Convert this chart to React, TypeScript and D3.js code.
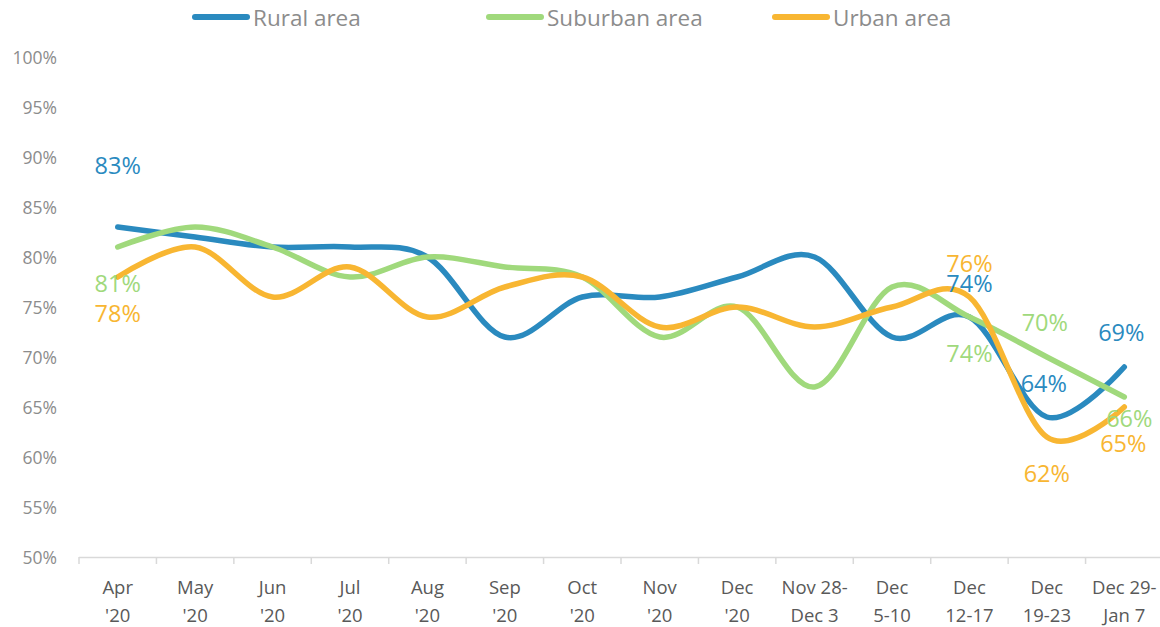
import React from "react";
import * as d3 from "d3";

if (typeof document !== "undefined") document.body.style.margin = "0";

const categories: string[][] = [
  ["Apr", "'20"], ["May", "'20"], ["Jun", "'20"], ["Jul", "'20"], ["Aug", "'20"],
  ["Sep", "'20"], ["Oct", "'20"], ["Nov", "'20"], ["Dec", "'20"], ["Nov 28-", "Dec 3"],
  ["Dec", "5-10"], ["Dec", "12-17"], ["Dec", "19-23"], ["Dec 29-", "Jan 7"],
];

const rural = [83, 82, 81, 81, 80, 72, 76, 76, 78, 80, 72, 74, 64, 69];
const suburban = [81, 83, 81, 78, 80, 79, 78, 72, 75, 67, 77, 74, 70, 66];
const urban = [78, 81, 76, 79, 74, 77, 78, 73, 75, 73, 75, 76, 62, 65];

const yTicks = [50, 55, 60, 65, 70, 75, 80, 85, 90, 95, 100];

const seriesNames = ["Rural area", "Suburban area", "Urban area"];
const seriesColors = ["#2a8abf", "#a0d97c", "#f8b632"];
const seriesValues = [rural, suburban, urban];

// labelled points: [seriesIndex, categoryIndex, dx, dy]
const labels: [number, number, number, number][] = [
  [0, 0, 0, -62], [1, 0, 0, 36], [2, 0, 0, 36],
  [2, 11, 0, -34], [0, 11, 0, -34], [1, 11, 0, 36],
  [1, 12, -2, -35], [0, 12, -3, -34], [2, 12, 0, 36],
  [0, 13, -3, -35], [1, 13, 5, 21], [2, 13, -1, 36],
];

const W = 1160, H = 627;
const FONT = "'Open Sans', 'Noto Sans', sans-serif";

export default function App() {
  const x = d3.scaleBand<number>().domain(d3.range(categories.length)).range([79, 1163]);
  const y = d3.scaleLinear().domain([50, 100]).range([557, 57]);
  const cx = (i: number) => (x(i) as number) + x.bandwidth() / 2;
  const line = d3.line<number>().x((_, i) => cx(i)).y((v) => y(v)).curve(d3.curveCatmullRom.alpha(0));

  const legendX = [193, 487, 773];

  return (
    <svg width={W} height={H} style={{ display: "block", fontFamily: FONT }}>
      <rect width={W} height={H} fill="#fff" />
      {yTicks.map((t) => (
        <text key={t} x={57} y={y(t)} textAnchor="end" dominantBaseline="central" fontSize={17.5} fill="#8c8c8c">
          {t}%
        </text>
      ))}
      <line x1={79} x2={1160} y1={557.5} y2={557.5} stroke="#d9d9d9" strokeWidth={1.5} />
      {d3.range(categories.length + 1).map((i) => {
        const px = i < categories.length ? (x(i) as number) : 79 + x.step() * categories.length;
        return <line key={i} x1={px} x2={px} y1={557} y2={564} stroke="#d9d9d9" strokeWidth={1.5} />;
      })}
      {categories.map((c, i) => (
        <text key={i} x={cx(i)} textAnchor="middle" fontSize={18.5} fill="#595959">
          <tspan x={cx(i)} y={594}>{c[0]}</tspan>
          <tspan x={cx(i)} y={622}>{c[1]}</tspan>
        </text>
      ))}
      {seriesValues.map((vals, s) => (
        <path key={s} d={line(vals) || ""} fill="none" stroke={seriesColors[s]} strokeWidth={5.5} strokeLinecap="round" strokeLinejoin="round" />
      ))}
      {labels.map(([s, i, dx, dy], k) => (
        <text key={k} x={cx(i) + dx} y={y(seriesValues[s][i]) + dy} textAnchor="middle" dominantBaseline="central" fontSize={23.5} fill={seriesColors[s]}>
          {seriesValues[s][i]}%
        </text>
      ))}
      {seriesNames.map((n, s) => (
        <g key={n}>
          <line x1={legendX[s] + 2} x2={legendX[s] + 54} y1={17} y2={17} stroke={seriesColors[s]} strokeWidth={6} strokeLinecap="round" />
          <text x={legendX[s] + 60} y={17} dominantBaseline="central" fontSize={22.5} fill="#8c8c8c">{n}</text>
        </g>
      ))}
    </svg>
  );
}
